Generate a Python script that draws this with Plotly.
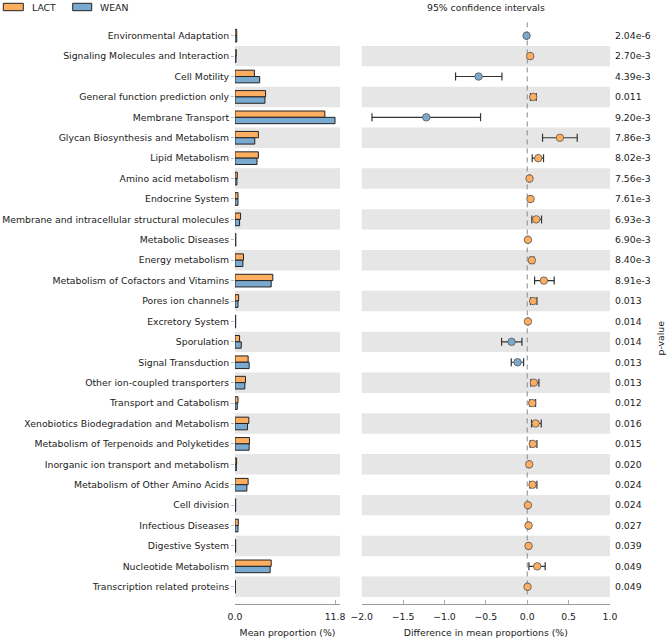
import plotly.graph_objects as go

categories = [
    "Environmental Adaptation", "Signaling Molecules and Interaction", "Cell Motility",
    "General function prediction only", "Membrane Transport", "Glycan Biosynthesis and Metabolism",
    "Lipid Metabolism", "Amino acid metabolism", "Endocrine System",
    "Membrane and intracellular structural molecules", "Metabolic Diseases", "Energy metabolism",
    "Metabolism of Cofactors and Vitamins", "Pores ion channels", "Excretory System",
    "Sporulation", "Signal Transduction", "Other ion-coupled transporters",
    "Transport and Catabolism", "Xenobiotics Biodegradation and Metabolism",
    "Metabolism of Terpenoids and Polyketides", "Inorganic ion transport and metabolism",
    "Metabolism of Other Amino Acids", "Cell division", "Infectious Diseases",
    "Digestive System", "Nucleotide Metabolism", "Transcription related proteins",
]

lact = [0.20, 0.15, 2.29, 3.61, 10.6, 2.76, 2.76, 0.27, 0.35, 0.66, 0.10, 1.00, 4.46, 0.43,
        0.08, 0.54, 1.55, 1.24, 0.35, 1.63, 1.71, 0.19, 1.55, 0.08, 0.39, 0.08, 4.27, 0.04]
wean = [0.21, 0.12, 2.91, 3.53, 11.8, 2.33, 2.60, 0.23, 0.35, 0.54, 0.10, 0.93, 4.27, 0.35,
        0.08, 0.74, 1.67, 1.16, 0.27, 1.48, 1.67, 0.16, 1.40, 0.08, 0.35, 0.08, 4.15, 0.04]

diff = [-0.008, 0.036, -0.588, 0.072, -1.22, 0.395, 0.133, 0.028, 0.040, 0.109, 0.008, 0.056,
        0.201, 0.072, 0.008, -0.189, -0.117, 0.080, 0.060, 0.101, 0.068, 0.024, 0.064, 0.008,
        0.016, 0.016, 0.121, 0.004]
ci_low = [-0.012, 0.030, -0.866, 0.040, -1.876, 0.185, 0.060, 0.022, 0.034, 0.056, 0.002, 0.036,
          0.089, 0.040, 0.002, -0.310, -0.193, 0.044, 0.032, 0.052, 0.036, 0.018, 0.032, 0.002,
          0.010, 0.010, 0.020, -0.002]
ci_high = [-0.004, 0.042, -0.306, 0.109, -0.564, 0.604, 0.197, 0.034, 0.046, 0.173, 0.014, 0.080,
           0.326, 0.117, 0.014, -0.064, -0.044, 0.141, 0.101, 0.169, 0.117, 0.030, 0.117, 0.014,
           0.022, 0.022, 0.217, 0.010]

pvalues = ["2.04e-6", "2.70e-3", "4.39e-3", "0.011", "9.20e-3", "7.86e-3", "8.02e-3", "7.56e-3",
           "7.61e-3", "6.93e-3", "6.90e-3", "8.40e-3", "8.91e-3", "0.013", "0.014", "0.014",
           "0.013", "0.013", "0.012", "0.016", "0.015", "0.020", "0.024", "0.024", "0.027",
           "0.039", "0.049", "0.049"]

groups = ["LACT", "WEAN"]
left_ticks = [0.0, 11.8]
right_ticks = [-2.0, -1.5, -1.0, -0.5, 0.0, 0.5, 1.0]

C_LACT = "#FDAE61"
C_WEAN = "#7BAAD0"
FONT = "DejaVu Sans"
FS = 9.3
W, H = 668, 639

idx = list(range(len(categories)))
n = len(categories)

def px(x):
    return x / W

def py(y):
    return 1 - y / H

y_top, y_bot = 22, 604
row0, step = 35.7, 20.41
yr = [(y_bot - row0) / step, (y_top - row0) / step]
ydom = [py(y_bot), py(y_top)]

fig = go.Figure()
fig.add_trace(go.Bar(y=idx, x=lact, orientation="h", name=groups[0], marker=dict(color=C_LACT, line=dict(color="#222", width=1)), xaxis="x", yaxis="y", showlegend=False))
fig.add_trace(go.Bar(y=idx, x=wean, orientation="h", name=groups[1], marker=dict(color=C_WEAN, line=dict(color="#222", width=1)), xaxis="x", yaxis="y", showlegend=False))

colors = [C_LACT if d >= 0 else C_WEAN for d in diff]
fig.add_trace(go.Scatter(
    x=diff, y=idx, mode="markers", xaxis="x2", yaxis="y2", showlegend=False,
    marker=dict(size=7.5, color=colors, line=dict(color="#555", width=0.8)),
    error_x=dict(type="data", symmetric=False,
                 array=[h - d for h, d in zip(ci_high, diff)],
                 arrayminus=[d - l for d, l in zip(diff, ci_low)],
                 color="#333", thickness=1.2, width=4),
))

shapes = []
for i in idx:
    if i % 2 == 1:
        for xr, yref in (("x domain", "y"), ("x2 domain", "y2")):
            shapes.append(dict(type="rect", xref=xr, yref=yref, x0=0, x1=1, y0=i - 0.5, y1=i + 0.5,
                               fillcolor="#E6E6E6", line=dict(width=0), layer="below"))
shapes.append(dict(type="line", xref="x2", yref="y2", x0=0, x1=0, y0=-0.65, y1=n - 0.5,
                   line=dict(color="#888", width=1, dash="5px,4px"), layer="below"))
# legend patches
for (x0, x1), c in zip(((3.3, 23.3), (72.7, 91.7)), (C_LACT, C_WEAN)):
    shapes.append(dict(type="rect", xref="paper", yref="paper", x0=px(x0), x1=px(x1),
                       y0=py(10.7), y1=py(3.3), fillcolor=c, line=dict(color="#222", width=1)))

annotations = [
    dict(text=groups[0], x=px(30), y=py(7), xref="paper", yref="paper", xanchor="left", yanchor="middle", showarrow=False, font=dict(size=FS, color="#222")),
    dict(text=groups[1], x=px(98), y=py(7), xref="paper", yref="paper", xanchor="left", yanchor="middle", showarrow=False, font=dict(size=FS, color="#222")),
    dict(text="95% confidence intervals", x=px((361.7 + 610) / 2), y=py(7), xref="paper", yref="paper", xanchor="center", yanchor="middle", showarrow=False, font=dict(size=FS, color="#222")),
    dict(text="p-value", x=px(660), y=py(338.5), xref="paper", yref="paper", xanchor="center", yanchor="middle", textangle=-90, showarrow=False, font=dict(size=FS, color="#222")),
]

axis_common = dict(showline=True, linecolor="#999", linewidth=1, ticks="inside", ticklen=4,
                   tickcolor="#aaa", showgrid=False, zeroline=False, tickfont=dict(size=FS, color="#222"),
                   fixedrange=True, automargin=False, ticklabelstandoff=4)

fig.update_layout(
    width=W, height=H, margin=dict(l=0, r=0, t=0, b=0, autoexpand=False),
    paper_bgcolor="white", plot_bgcolor="white",
    font=dict(family=FONT, size=FS, color="#222"),
    barmode="group", bargap=0.38, bargroupgap=0,
    shapes=shapes, annotations=annotations,
    xaxis=dict(domain=[px(235), px(340)], range=[0, 12.39], tickvals=left_ticks,
               ticktext=[f"{v:.1f}" for v in left_ticks], anchor="y",
               title=dict(text="Mean proportion (%)", standoff=8, font=dict(size=FS)), **axis_common),
    yaxis=dict(domain=ydom, range=yr, tickvals=idx, ticktext=categories, anchor="x",
               showline=False, ticks="outside", ticklen=3, tickcolor="#bbb", showgrid=False,
               zeroline=False, tickfont=dict(size=FS, color="#222"), fixedrange=True, automargin=False),
    xaxis2=dict(domain=[px(361.7), px(610)], range=[-2, 1], tickvals=right_ticks,
                ticktext=[f"{v:.1f}".replace("-", "\u2212") for v in right_ticks], anchor="y2",
                title=dict(text="Difference in mean proportions (%)", standoff=8, font=dict(size=FS)),
                **axis_common),
    yaxis2=dict(domain=ydom, range=yr, tickvals=idx, ticktext=pvalues, anchor="x2", side="right",
                showline=False, ticks="", showgrid=False, zeroline=False, ticklabelstandoff=4,
                tickfont=dict(size=FS, color="#222"), fixedrange=True, automargin=False),
)

fig.write_html("out.html", config={"displayModeBar": False},
               post_script="document.body.style.margin='0px';document.body.style.overflow='hidden';")
